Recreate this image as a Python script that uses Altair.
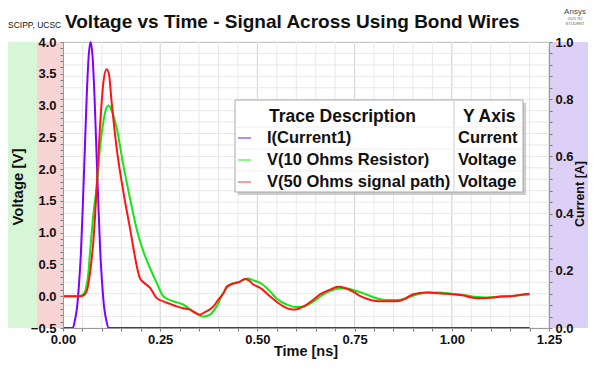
import altair as alt
import pandas as pd

# ---------------- data ----------------
t_cur = [0.0, 0.025, 0.031, 0.036, 0.041, 0.046, 0.051, 0.056, 0.061, 0.066, 0.071,
         0.076, 0.081, 0.086, 0.091, 0.096, 0.101, 0.106, 0.111, 0.117, 1.2]
i_cur = [0.0, 0.0, 0.03, 0.07, 0.15, 0.26, 0.43, 0.62, 0.81, 0.95, 1.0,
         0.95, 0.81, 0.62, 0.43, 0.26, 0.15, 0.07, 0.03, 0.0, 0.0]

t_v10 = [0.0, 0.04, 0.052, 0.06, 0.065, 0.069, 0.078, 0.087, 0.095, 0.104, 0.112, 0.118,
         0.125, 0.138, 0.155, 0.172, 0.191, 0.207, 0.224, 0.241, 0.258, 0.284, 0.309,
         0.335, 0.361, 0.378, 0.395, 0.413, 0.43, 0.455, 0.475, 0.49, 0.51, 0.532, 0.55,
         0.575, 0.597, 0.62, 0.645, 0.67, 0.69, 0.71, 0.73, 0.75, 0.78, 0.8, 0.83, 0.86,
         0.88, 0.905, 0.94, 0.97, 1.0, 1.03, 1.06, 1.09, 1.12, 1.15, 1.18, 1.2]
v_v10 = [0.0, 0.0, 0.03, 0.15, 0.35, 0.65, 1.28, 1.75, 2.33, 2.75, 2.97, 3.0,
         2.92, 2.65, 2.07, 1.55, 1.02, 0.7, 0.44, 0.21, 0.0, -0.08, -0.13,
         -0.24, -0.32, -0.29, -0.16, 0.06, 0.18, 0.23, 0.28, 0.25, 0.2, 0.08, -0.04,
         -0.13, -0.17, -0.16, -0.08, 0.03, 0.09, 0.12, 0.12, 0.09, 0.03, -0.02, -0.06, -0.06,
         -0.04, 0.02, 0.06, 0.06, 0.04, 0.02, -0.01, -0.02, -0.01, 0.0, 0.02, 0.03]

t_v50 = [0.0, 0.045, 0.052, 0.061, 0.068, 0.073, 0.078, 0.087, 0.095, 0.104, 0.112, 0.118,
         0.125, 0.138, 0.155, 0.172, 0.191, 0.198, 0.207, 0.224, 0.241, 0.258, 0.275, 0.292,
         0.309, 0.326, 0.34, 0.352, 0.365, 0.387, 0.4, 0.413, 0.421, 0.438, 0.452, 0.468,
         0.48, 0.49, 0.498, 0.51, 0.532, 0.55, 0.567, 0.582, 0.597, 0.612, 0.627, 0.645,
         0.661, 0.685, 0.708, 0.725, 0.747, 0.765, 0.781, 0.8, 0.824, 0.845, 0.867, 0.885,
         0.901, 0.935, 0.955, 0.978, 1.0, 1.03, 1.05, 1.064, 1.085, 1.107, 1.13, 1.15,
         1.175, 1.2]
v_v50 = [0.0, 0.0, 0.01, 0.08, 0.3, 0.55, 0.86, 1.75, 2.65, 3.37, 3.57, 3.5,
         3.06, 2.33, 1.65, 1.08, 0.44, 0.28, 0.22, 0.13, -0.03, -0.08, -0.12, -0.16,
         -0.19, -0.21, -0.26, -0.29, -0.25, -0.16, -0.05, 0.05, 0.15, 0.2, 0.22, 0.27,
         0.24, 0.18, 0.16, 0.12, 0.0, -0.09, -0.16, -0.2, -0.21, -0.18, -0.13, -0.05,
         0.03, 0.1, 0.15, 0.13, 0.07, 0.0, -0.04, -0.07, -0.08, -0.08, -0.07, -0.02,
         0.03, 0.06, 0.05, 0.04, 0.03, 0.01, -0.02, -0.03, -0.03, -0.02, 0.0, 0.0,
         0.02, 0.04]

trace_names = ["I(Current1)", "V(10 Ohms Resistor)", "V(50 Ohms signal path)"]
trace_axes = ["Current", "Voltage", "Voltage"]
trace_colors = ["#8000ff", "#14e614", "#ff1414"]
swatch_colors = ["#b38cff", "#8cf58c", "#ff9a9a"]

x_ticks = [round(i * 0.05, 2) for i in range(26)]
v_ticks = [round(-0.5 + i * 0.1, 1) for i in range(46)]
c_ticks = [round(i * 0.04, 2) for i in range(26)]
x_major = [0.0, 0.25, 0.5, 0.75, 1.0, 1.25]

W, H = 486, 286
FONT = "Liberation Sans"

df_cur = pd.DataFrame({"t": t_cur, "i": i_cur})
df_v10 = pd.DataFrame({"t": t_v10, "v": v_v10})
df_v50 = pd.DataFrame({"t": t_v50, "v": v_v50})
one = pd.DataFrame({"k": [0]})

xs = alt.Scale(domain=[0, 1.25], nice=False, zero=False)
vs = alt.Scale(domain=[-0.5, 4.0], nice=False, zero=False)
cs = alt.Scale(domain=[0, 1.0], nice=False, zero=False)


def lbl(step, fmt):
    return (f"abs(datum.value/{step} - round(datum.value/{step})) < 0.001 "
            f"? format(datum.value, '{fmt}') : ''")


ax_common = dict(grid=False, domain=True, domainColor="#9a9a9a", tickColor="#7a7a7a",
                 tickSize=3, labelFont=FONT, labelFontWeight="bold", labelFontSize=13,
                 labelColor="#111111", labelOverlap=False, labelFlush=False, title=None,
                 zindex=1)

x_axis = alt.Axis(orient="bottom", values=x_ticks, labelExpr=lbl(0.25, ".2f"),
                  labelPadding=2, **ax_common)


def X(field):
    return alt.X(field, type="quantitative", scale=xs, axis=x_axis)


# background bands beside the axes
def band(x1, x2, color):
    return alt.Chart(one).mark_rect(color=color).encode(
        x=alt.value(x1), x2=alt.value(x2), y=alt.value(0), y2=alt.value(H))

bands = [band(-55, -26, "#d6f6d6"), band(-26, 0, "#f9d4d4"), band(W, W + 39, "#ddd0f6")]

vgrid_minor = alt.Chart(pd.DataFrame({"g": x_ticks})).mark_rule(
    color="#e8e8e8", strokeWidth=1).encode(x=X("g"))
vgrid_major = alt.Chart(pd.DataFrame({"g": x_major})).mark_rule(
    color="#d6d6d6", strokeWidth=1).encode(x=X("g"))
hgrid = alt.Chart(pd.DataFrame({"g": c_ticks})).mark_rule(
    color="#e8e8e8", strokeWidth=1).encode(y=alt.Y("g:Q", scale=cs, axis=None))

cur_line = alt.Chart(df_cur).mark_line(
    color=trace_colors[0], strokeWidth=2, interpolate="monotone").encode(
    x=X("t"),
    y=alt.Y("i:Q", scale=cs, axis=alt.Axis(orient="right", values=c_ticks,
                                           labelExpr=lbl(0.2, ".1f"), labelPadding=3,
                                           **ax_common)))

v10_line = alt.Chart(df_v10).mark_line(
    color=trace_colors[1], strokeWidth=2, interpolate="monotone").encode(
    x=X("t"),
    y=alt.Y("v:Q", scale=vs, axis=alt.Axis(orient="left", values=v_ticks,
                                           labelExpr=lbl(0.5, ".1f"), labelPadding=4,
                                           **ax_common)))

v50_line = alt.Chart(df_v50).mark_line(
    color=trace_colors[2], strokeWidth=2, interpolate="monotone").encode(
    x=X("t"),
    y=alt.Y("v:Q", scale=vs, axis=None))


def txt(s, x, y, size, weight="bold", align="left", baseline="middle", angle=0, color="#111111"):
    kw = dict(text=s, font=FONT, fontSize=size, fontWeight=weight, align=align,
              baseline=baseline, color=color)
    if angle:
        kw["angle"] = angle
    return alt.Chart(one).mark_text(**kw).encode(x=alt.value(x), y=alt.value(y))


annotations = [
    txt("SCIPP, UCSC", -55, -14, 8.5, weight="normal", baseline="alphabetic"),
    txt("Voltage vs Time - Signal Across Using Bond Wires", 2, -14, 19, baseline="alphabetic"),
    txt("Ansys", 512, -30, 8, weight="normal", align="center", color="#444444"),
    txt("2021 R2", 512, -23, 4, weight="normal", align="center", color="#666666"),
    txt("STUDENT", 512, -18, 4, weight="normal", align="center", color="#666666"),
    txt("Voltage [V]", -45, 145, 15, align="center", angle=270),
    txt("Current [A]", 517, 152, 12.5, align="center", angle=270),
    txt("Time [ns]", 243, 314, 14.5, align="center", baseline="alphabetic"),
]

# legend table box
LX0, LX1, LY0, LY1, LDIV = 172, 460, 58, 150, 391
legend = [
    alt.Chart(one).mark_rect(color="#b8b8b8", opacity=0.7).encode(
        x=alt.value(LX0 + 3), x2=alt.value(LX1 + 3), y=alt.value(LY0 + 3), y2=alt.value(LY1 + 3)),
    alt.Chart(one).mark_rect(fill="white", stroke="#a8a8a8", strokeWidth=1).encode(
        x=alt.value(LX0), x2=alt.value(LX1), y=alt.value(LY0), y2=alt.value(LY1)),
    alt.Chart(one).mark_rule(color="#cccccc").encode(
        x=alt.value(LDIV), y=alt.value(LY0), y2=alt.value(LY1)),
    txt("Trace Description", 206, 75, 17.5),
    txt("Y Axis", 400, 75, 17.5),
]
row_y = [96, 118, 140]
for k in range(3):
    legend.append(alt.Chart(one).mark_rule(color="#eeeeee").encode(
        x=alt.value(LX0 + 1), x2=alt.value(LX1 - 1), y=alt.value(row_y[k] - 11)))
    legend.append(alt.Chart(one).mark_rule(color=swatch_colors[k], strokeWidth=2).encode(
        x=alt.value(175), x2=alt.value(188), y=alt.value(row_y[k])))
    legend.append(txt(trace_names[k], 204, row_y[k], 16.5))
    legend.append(txt(trace_axes[k], 395, row_y[k], 16.5))

chart = alt.layer(
    *bands, vgrid_minor, vgrid_major, hgrid, cur_line, v10_line, v50_line,
    *annotations, *legend
).resolve_scale(y="independent").properties(
    width=W, height=H,
    autosize=alt.AutoSizeParams(type="none"),
    padding={"left": 55, "top": 34, "right": 39, "bottom": 32},
    background="white",
).configure_view(stroke="#a0a0a0", strokeWidth=1).configure_axis(
    grid=False, domain=True, domainColor="#9a9a9a", tickColor="#7a7a7a",
    tickSize=3, labelFont=FONT, labelFontWeight="bold", labelFontSize=13,
    labelColor="#111111", labelOverlap=False, labelFlush=False, zindex=1)

chart.save("out.html", embed_options={"renderer": "svg", "actions": False})
